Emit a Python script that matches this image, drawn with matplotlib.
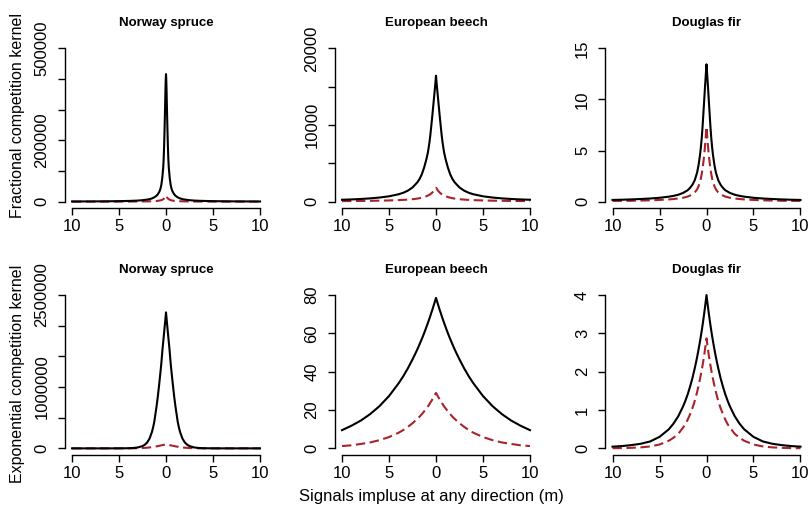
import numpy as np
import matplotlib
matplotlib.use("Agg")
import matplotlib.pyplot as plt

plt.rcParams['font.family'] = ['Liberation Sans', 'DejaVu Sans']

# ---------------- data (curves are symmetric in distance) -------------
species = ["Norway spruce", "European beech", "Douglas fir"]
row_labels = ["Fractional competition kernel", "Exponential competition kernel"]
x_label = "Signals impluse at any direction (m)"
x_ticks = [-10, -5, 0, 5, 10]
x_ticklabels = ["10", "5", "0", "5", "10"]

# distances (m) at which the curves were read
dist_frac = [0, 0.025, 0.05, 0.075, 0.1, 0.15, 0.2, 0.25, 0.3, 0.4, 0.5, 0.6, 0.7, 0.85, 1.0,
             1.25, 1.5, 1.75, 2, 2.5, 3, 3.5, 4, 5, 6, 7, 8, 9, 10]
dist_exp = [0, 0.125, 0.25, 0.375, 0.5, 0.625, 0.75, 0.875, 1, 1.125, 1.25, 1.375, 1.5,
            1.75, 2, 2.25, 2.5, 3, 3.5, 4, 5, 6, 7, 8, 9, 10]

# Fractional kernel, solid (black) and dashed (red)
frac_spruce_solid = [416000, 400000, 375000, 340000, 305000, 240000, 182000, 138000, 110000,
                     76000, 54000, 41000, 33000, 25000, 19500, 14000, 10500, 8300, 6800,
                     4800, 3600, 2900, 2400, 1700, 1300, 1050, 870, 740, 640]
frac_spruce_dash = [20000, 19000, 17500, 16000, 14500, 12300, 10500, 9000, 7900, 6200, 5000,
                    4200, 3500, 2800, 2300, 1750, 1400, 1150, 950, 700, 550, 450, 380, 280,
                    220, 180, 150, 130, 110]
frac_beech_solid = [16430, 16050, 15700, 15350, 15000, 14350, 13700, 13050, 12400, 11100,
                    9900, 8700, 7700, 6500, 5650, 4500, 3600, 2950, 2500, 1850, 1430, 1150,
                    960, 700, 540, 430, 350, 290, 250]
frac_beech_dash = [1825, 1790, 1750, 1700, 1650, 1560, 1470, 1390, 1320, 1180, 1080, 980, 900,
                   800, 720, 610, 520, 450, 400, 320, 270, 230, 200, 160, 130, 110, 95, 85, 75]
frac_fir_solid = [13.44, 13.1, 12.75, 12.4, 12.05, 11.35, 10.6, 9.85, 9.1, 7.6, 6.3, 5.3, 4.5,
                  3.55, 2.85, 2.1, 1.65, 1.35, 1.12, 0.85, 0.68, 0.57, 0.49, 0.38, 0.31, 0.26,
                  0.22, 0.19, 0.17]
frac_fir_dash = [7.33, 7.0, 6.7, 6.4, 6.1, 5.55, 5.0, 4.55, 4.1, 3.35, 2.75, 2.25, 1.9, 1.5,
                 1.2, 0.9, 0.72, 0.6, 0.5, 0.38, 0.31, 0.26, 0.22, 0.17, 0.13, 0.11, 0.09,
                 0.08, 0.07]

# Exponential kernel, solid (black) and dashed (red)
exp_spruce_solid = [2217000, 2010000, 1810000, 1610000, 1380000, 1190000, 1010000, 840000,
                    690000, 560000, 430000, 340000, 265000, 160000, 97000, 60000, 37000,
                    15000, 6000, 2400, 400, 70, 12, 2, 0.4, 0.07]
exp_spruce_dash = [65000, 61000, 57000, 53000, 49000, 45000, 41000, 37000, 33000, 29500,
                   26000, 23000, 20000, 15000, 11000, 8000, 5800, 3000, 1500, 750, 180, 40,
                   10, 2, 0.5, 0.1]
exp_beech_solid = [78.5, 76.5, 74.5, 72.5, 70.7, 68.8, 67.0, 65.3, 63.6, 61.9, 60.3, 58.7,
                   57.2, 54.3, 51.5, 48.9, 46.4, 41.7, 37.5, 33.8, 27.3, 22.1, 17.9, 14.5,
                   11.8, 9.5]
exp_beech_dash = [28.9, 27.8, 26.7, 25.7, 24.6, 23.7, 22.7, 21.8, 21.0, 20.2, 19.4, 18.6,
                  17.9, 16.5, 15.3, 14.2, 13.1, 11.2, 9.5, 8.1, 5.9, 4.3, 3.1, 2.3, 1.6, 1.2]
exp_fir_solid = [4.0, 3.75, 3.51, 3.29, 3.08, 2.89, 2.71, 2.54, 2.38, 2.23, 2.09, 1.96, 1.83,
                 1.61, 1.41, 1.24, 1.09, 0.84, 0.65, 0.50, 0.30, 0.18, 0.12, 0.085, 0.06, 0.045]
exp_fir_dash = [2.87, 2.64, 2.42, 2.23, 2.05, 1.89, 1.74, 1.60, 1.47, 1.35, 1.24, 1.14, 1.05,
                0.89, 0.75, 0.63, 0.54, 0.38, 0.28, 0.20, 0.10, 0.05, 0.026, 0.014, 0.007,
                0.004]

# y axis ticks and labels per panel
y_ticks = [
    [[0, 100000, 200000, 300000, 400000, 500000], [0, 5000, 10000, 15000, 20000], [0, 5, 10, 15]],
    [[0, 500000, 1000000, 1500000, 2000000, 2500000], [0, 20, 40, 60, 80], [0, 1, 2, 3, 4]],
]
y_ticklabels = [
    [["0", "", "200000", "", "", "500000"], ["0", "", "10000", "", "20000"], ["0", "5", "10", "15"]],
    [["0", "", "1000000", "", "", "2500000"], ["0", "20", "40", "60", "80"], ["0", "1", "2", "3", "4"]],
]

curves = [
    [(dist_frac, frac_spruce_solid, frac_spruce_dash),
     (dist_frac, frac_beech_solid, frac_beech_dash),
     (dist_frac, frac_fir_solid, frac_fir_dash)],
    [(dist_exp, exp_spruce_solid, exp_spruce_dash),
     (dist_exp, exp_beech_solid, exp_beech_dash),
     (dist_exp, exp_fir_solid, exp_fir_dash)],
]

# ---------------- layout ----------------
W, H = 810, 513
fig = plt.figure(figsize=(W / 100, H / 100), dpi=100)

col_x0 = [64.5, 334.5, 605.0]   # left pixel of plot region
col_w = 203.0
row_top = [42.2, 288.9]         # top pixel of plot region
row_h = [165.6, 165.6]

red = "#A8242A"


def mirror(d, v):
    d = np.asarray(d, float)
    v = np.asarray(v, float)
    x = np.concatenate([-d[::-1], d[1:]])
    y = np.concatenate([v[::-1], v[1:]])
    return x, y


for r in range(2):
    for c in range(3):
        left = col_x0[c] / W
        bottom = 1 - (row_top[r] + row_h[r]) / H
        ax = fig.add_axes([left, bottom, col_w / W, row_h[r] / H])
        d, solid, dash = curves[r][c]
        xs, ys = mirror(d, solid)
        xd, yd = mirror(d, dash)
        ax.plot(xs, ys, color="black", lw=1.5, solid_joinstyle="round", zorder=3)
        ax.plot(xd, yd, color=red, lw=1.5, dashes=(4.5, 2.2), zorder=2)

        top = y_ticks[r][c][-1]
        ax.set_xlim(-10.8, 10.8)
        ax.set_ylim(-0.04 * top, 1.04 * top)
        for s in ("top", "right"):
            ax.spines[s].set_visible(False)
        ax.spines["left"].set_bounds(0, top)
        ax.spines["bottom"].set_bounds(-10, 10)
        for s in ("left", "bottom"):
            ax.spines[s].set_linewidth(1.0)
        ax.set_xticks(x_ticks)
        ax.set_xticklabels(x_ticklabels)
        ax.set_yticks(y_ticks[r][c])
        ax.set_yticklabels(y_ticklabels[r][c], rotation=90, va="center")
        ax.tick_params(axis="both", direction="out", length=4.8, width=1.0,
                       labelsize=12, colors="black")
        ax.tick_params(axis="x", pad=3.5)
        ax.tick_params(axis="y", pad=6)
        ax.set_facecolor("none")
        fig.text((col_x0[c] + col_w / 2) / W, 1 - (row_top[r] - 19) / H, species[c],
                 ha="center", va="center", fontsize=9.5, fontweight="bold")

fig.text(18 / W, 1 - 116 / H, row_labels[0], rotation=90, ha="center", va="center", fontsize=11.5)
fig.text(18 / W, 1 - 374 / H, row_labels[1], rotation=90, ha="center", va="center", fontsize=11.5)
fig.text(431 / W, 1 - 496 / H, x_label, ha="center", va="center", fontsize=12)

fig.savefig("out.png", dpi=100, facecolor="white")
